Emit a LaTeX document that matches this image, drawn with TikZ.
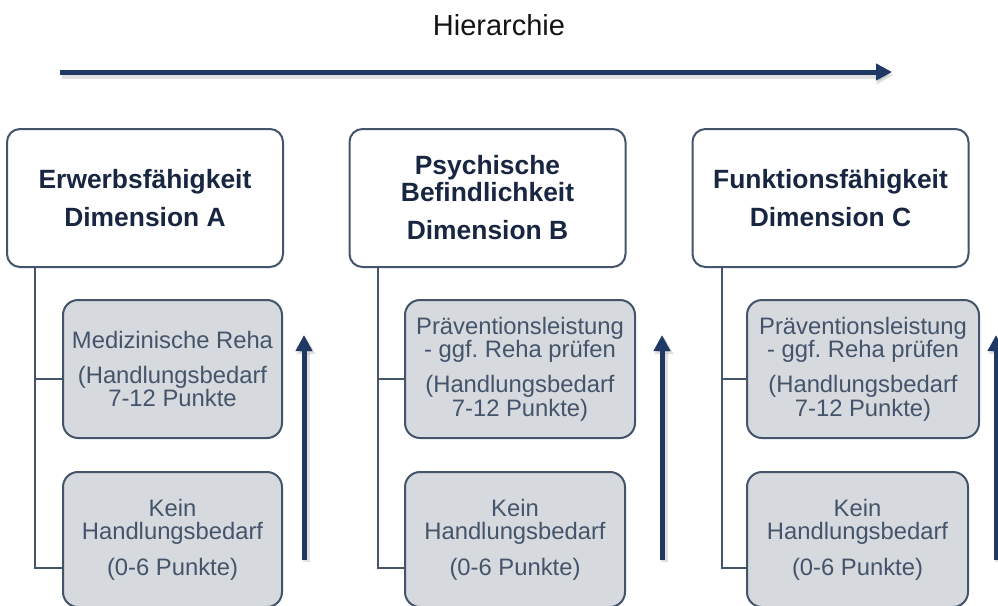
\documentclass[tikz,border=0pt]{standalone}
\usepackage{fontspec}
\setmainfont{Liberation Sans}
\usetikzlibrary{arrows.meta}
\definecolor{navy}{RGB}{31,56,100}
\definecolor{slate}{RGB}{68,84,106}
\definecolor{hdtext}{RGB}{24,38,66}
\definecolor{greyfill}{RGB}{214,217,222}
\definecolor{titletext}{RGB}{20,20,20}
\frenchspacing
\begin{document}
\begin{tikzpicture}[x=1pt,y=-1pt,
  headbox/.style={draw=slate, line width=2pt, rounded corners=13pt, fill=white,
    minimum width=276pt, minimum height=138pt, align=center, text=hdtext,
    font=\bfseries\fontsize{26.4}{27}\selectfont, inner sep=0pt},
  subbox/.style={draw=slate, line width=2pt, rounded corners=15pt, fill=greyfill,
    align=center, text=slate, font=\fontsize{23.8}{23.5}\selectfont, inner sep=0pt},
  conn/.style={draw=slate, line width=2.5pt},
  bigarrow/.style={draw=navy, line width=5pt, -{Triangle[length=16pt,width=16pt]}},
  arrowshadow/.style={draw=black, opacity=0.12, line width=7pt, -{Triangle[length=17pt,width=18pt]}}
]
\clip (0,0) rectangle (998,605);
\fill[white] (0,0) rectangle (998,605);

% title
\node[font=\fontsize{29}{30}\selectfont, text=titletext, anchor=base, inner sep=0pt] (title) at (499,35) {Hierarchie};

% hierarchy arrow
\coordinate (hs) at (60,72);
\coordinate (he) at (892,72);
\draw[arrowshadow] ([shift={(1.5pt,-3pt)}]hs) -- ([shift={(1.5pt,-3pt)}]he);
\draw[bigarrow] (hs) -- (he);

% header boxes
\node[headbox] (hA) at (145,198) {Erwerbsfähigkeit\\[11pt]Dimension A};
\node[headbox] (hB) at (487.5,198) {Psychische\\Befindlichkeit\\[11pt]Dimension B};
\node[headbox] (hC) at (830.5,198) {Funktionsfähigkeit\\[11pt]Dimension C};

% sub boxes
\node[subbox, minimum width=219pt, minimum height=138pt] (gA1) at (172.5,369)
  {Medizinische Reha\\[11.5pt](Handlungsbedarf\\7-12 Punkte};
\node[subbox, minimum width=219pt, minimum height=135pt] (gA2) at (172.5,539.5)
  {Kein\\Handlungsbedarf\\[12pt](0-6 Punkte)};
\node[subbox, minimum width=230pt, minimum height=138pt] (gB1) at (520,369)
  {Präventionsleistung\\- ggf. Reha prüfen\\[11.5pt](Handlungsbedarf\\7-12 Punkte)};
\node[subbox, minimum width=220pt, minimum height=135pt] (gB2) at (515,539.5)
  {Kein\\Handlungsbedarf\\[12pt](0-6 Punkte)};
\node[subbox, minimum width=232pt, minimum height=138pt] (gC1) at (863,369)
  {Präventionsleistung\\- ggf. Reha prüfen\\[11.5pt](Handlungsbedarf\\7-12 Punkte)};
\node[subbox, minimum width=221pt, minimum height=135pt] (gC2) at (857.5,539.5)
  {Kein\\Handlungsbedarf\\[12pt](0-6 Punkte)};

% trunk positions
\coordinate (tA) at (35,0);
\coordinate (tB) at (378,0);
\coordinate (tC) at (722,0);

\coordinate (bA1) at ([yshift=-10pt]gA1.west);
\coordinate (bA2) at ([yshift=-28.5pt]gA2.west);
\coordinate (bB1) at ([yshift=-10pt]gB1.west);
\coordinate (bB2) at ([yshift=-28.5pt]gB2.west);
\coordinate (bC1) at ([yshift=-10pt]gC1.west);
\coordinate (bC2) at ([yshift=-28.5pt]gC2.west);

\draw[conn] (hA.south -| tA) |- (bA2);
\draw[conn] (bA1) -- (bA1 -| tA);
\draw[conn] (hB.south -| tB) |- (bB2);
\draw[conn] (bB1) -- (bB1 -| tB);
\draw[conn] (hC.south -| tC) |- (bC2);
\draw[conn] (bC1) -- (bC1 -| tC);

% vertical arrows
\coordinate (uA0) at (304,560); \coordinate (uA1) at (304,335);
\coordinate (uB0) at (662,560); \coordinate (uB1) at (662,335);
\coordinate (uC0) at (996,560); \coordinate (uC1) at (996,335);
\foreach \a in {A,B,C}{
  \draw[arrowshadow] ([shift={(2pt,-2pt)}]u\a0) -- ([shift={(2pt,-2pt)}]u\a1);
  \draw[bigarrow] (u\a0) -- (u\a1);
}
\end{tikzpicture}
\end{document}
